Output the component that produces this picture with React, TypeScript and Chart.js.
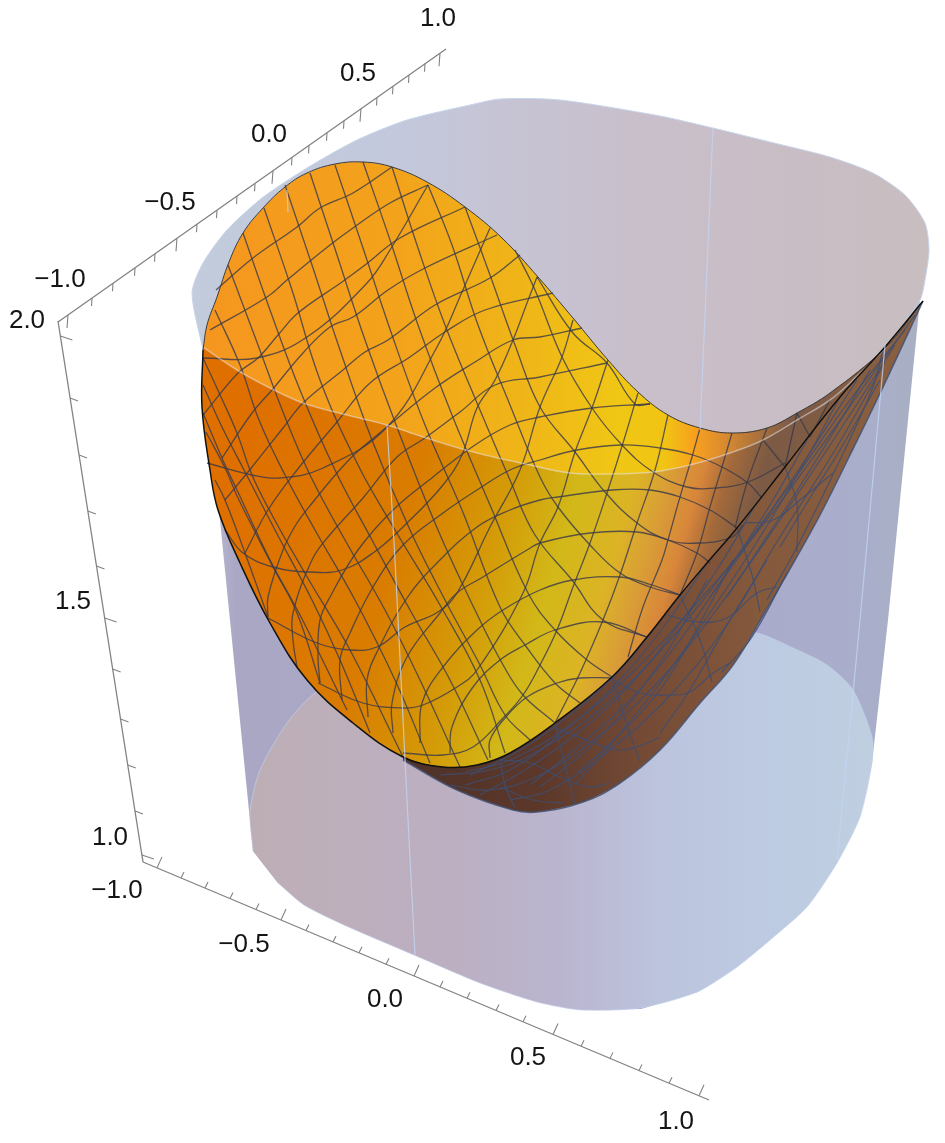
import React, { useEffect, useRef } from "react";
import Chart from "chart.js/auto";

type P = [number, number];

// ---- picture-plane outlines ----
const wallOutline: P[] = [[192,293],[203,350],[253,851],[278,883],[304,905],[344,925],[414,955],[480,983],[537,1002],[581,1010],[641,1009],[698,992],[737,967],[770,940],[807,907],[837,863],[860,817],[872,763],[888,620],[920,300],[929,250],[700,200],[300,200]];
const floorOutline: P[] = [[253,851],[250,812],[260,770],[287,723],[315,693],[400,640],[600,610],[757,633],[793,648],[827,665],[853,690],[872,737],[872,763],[860,817],[837,863],[807,907],[770,940],[737,967],[697,992],[640,1008],[581,1010],[537,1002],[480,983],[414,955],[344,925],[304,905],[278,883]];
const capOutline: P[] = [[203,350],[192,293],[203,263],[227,230],[262,198],[307,168],[357,140],[407,120],[470,105],[500,99],[560,100],[660,116],[713,128],[770,142],[830,157],[873,173],[905,195],[925,223],[929,250],[925,280],[920,300],[885,348],[853,380],[830,400],[797,420],[763,440],[730,453],[690,465],[653,472],[610,474],[570,473],[530,465],[473,452],[423,437],[387,425],[347,415],[303,403],[270,388],[237,370]];
const rimBack: P[] = [[203,350],[207,325],[217,297],[229,262],[243,233],[263,208],[285,187],[307,173],[335,164],[363,162],[392,167],[427,182],[465,207],[502,238],[538,277],[573,318],[608,360],[638,392],[668,415],[700,428],[732,433],[767,428],[797,413],[830,393],[885,348],[923,301]];
const rimFront: P[] = [[203,347],[237,370],[270,388],[303,403],[347,415],[387,425],[423,437],[473,452],[530,465],[570,473],[610,474],[653,472],[690,465],[730,453],[763,440],[797,420],[830,400],[853,380],[885,348],[923,301]];
const frontEdge: P[] = [[203,350],[202,407],[210,470],[218,510],[240,563],[270,623],[307,680],[353,723],[403,757],[443,767],[477,765],[510,753],[555,723],[612,677],[647,637],[680,595],[707,563],[737,528],[785,467],[840,397],[885,347],[923,301]];
const underEdge: P[] = [[403,760],[457,790],[513,810],[537,812],[583,802],[620,783],[660,750],[700,703],[733,665],[765,612],[795,560],[820,515],[850,455],[883,387],[923,301]];

// ---- mesh curves on the surface ----
const fallingCurves: P[][] = [
  [[215,480],[225,500],[245,553],[268,617]],
  [[206,432],[226,470],[238,498],[273,567],[297,613],[320,683]],
  [[203,413],[222,458],[237,490],[270,560],[300,615],[347,710]],
  [[203,385],[221,425],[244,470],[275,530],[312,600],[340,660],[370,733]],
  [[203,358],[221,397],[237,433],[252,475],[272,515],[306,575],[350,650],[403,757]],
  [[215,310],[240,365],[259,420],[285,475],[315,530],[355,600],[395,680],[430,763]],
  [[228,265],[258,345],[283,412],[310,475],[345,540],[385,610],[420,680],[460,767]],
  [[243,233],[270,310],[300,390],[335,470],[372,540],[410,610],[450,680],[488,760]],
  [[264,208],[292,290],[320,380],[358,465],[395,530],[440,605],[480,680],[505,753]],
  [[285,185],[312,265],[340,350],[372,440],[410,530],[445,600],[480,665],[505,715],[530,740]],
  [[310,173],[337,255],[365,340],[398,430],[438,530],[475,610],[502,663],[523,695],[555,723]],
  [[335,165],[362,245],[392,335],[425,425],[462,510],[500,607],[525,645],[555,683],[580,703]],
  [[363,162],[390,240],[418,325],[452,415],[490,505],[528,593],[555,630],[587,660],[612,677]],
  [[392,167],[417,245],[445,325],[480,410],[510,480],[535,535],[572,580],[603,620],[647,637]],
  [[428,185],[452,245],[478,325],[510,405],[540,477],[558,507],[590,545],[620,573],[650,587],[680,595]],
  [[465,207],[490,275],[515,345],[540,407],[575,452],[605,492],[637,523],[668,540],[700,543],[732,537],[743,525]],
  [[515,250],[535,290],[562,357],[592,408],[622,445],[653,472],[687,487],[717,488],[748,482],[785,463]],
  [[537,277],[573,333],[607,363],[635,404],[650,404]],
  [[763,440],[785,467]],
  [[797,413],[810,437]],
];
const valleyCurves: P[][] = [
  [[428,185],[390,250],[367,283],[307,337],[257,358],[203,358]],
  [[490,228],[462,292],[437,347],[387,427],[323,468],[280,478],[252,475],[207,463]],
  [[537,277],[527,303],[513,340],[495,380],[477,408],[462,455],[443,485],[407,523],[373,553],[342,570],[310,572],[273,567],[243,553],[225,530]],
  [[573,320],[562,357],[540,407],[520,470],[490,527],[457,593],[438,612],[405,627],[377,647],[350,650],[317,643],[268,618]],
  [[608,360],[592,408],[575,452],[558,507],[540,543],[523,593],[477,670],[457,687],[423,705],[403,708],[363,703],[318,683]],
  [[638,393],[623,443],[608,490],[590,543],[573,587],[557,630],[540,665],[523,695],[503,718],[473,747],[443,755],[403,753]],
  [[668,415],[655,470],[637,523],[620,575],[603,620],[580,673],[555,723]],
  [[700,428],[692,457],[680,497],[668,540],[662,560],[643,607],[628,657]],
  [[732,433],[722,467],[710,507],[697,553],[680,595]],
  [[767,428],[747,483],[735,528]],
  [[797,413],[785,467]],
  [[830,400],[810,437]],
];
const waveCurves: P[][] = [
  [[216,290],[253,258],[297,227],[320,208],[353,193],[392,167]],
  [[210,330],[267,297],[287,280],[330,245],[353,228],[390,203],[428,185]],
  [[203,415],[238,373],[258,358],[278,335],[298,313],[342,282],[365,265],[400,238],[465,207]],
  [[222,458],[252,413],[272,390],[303,353],[330,327],[353,317],[388,290],[425,268],[497,235]],
  [[225,500],[252,467],[283,428],[303,403],[343,370],[365,352],[388,340],[435,305],[490,278],[520,255]],
  [[245,553],[268,510],[297,470],[337,422],[370,383],[410,357],[445,332],[485,310],[553,293]],
  [[268,617],[268,597],[283,550],[297,523],[313,502],[337,473],[357,452],[387,427],[435,388],[475,362],[513,340],[540,337],[582,328]],
  [[297,667],[293,640],[293,613],[312,560],[328,537],[363,498],[397,457],[425,438],[460,412],[495,385],[540,377],[607,363]],
  [[320,683],[318,657],[320,620],[330,597],[358,550],[393,510],[433,477],[475,445],[510,425],[540,417],[592,408],[650,404]],
  [[342,700],[340,660],[350,633],[373,587],[403,545],[443,513],[477,490],[510,470],[540,460],[577,450],[622,445],[660,448],[693,455],[722,467],[748,483],[762,498]],
  [[368,717],[367,680],[378,650],[407,598],[437,563],[477,527],[510,510],[540,500],[558,497],[612,490],[650,490],[680,497],[710,510],[737,528]],
  [[393,733],[392,703],[407,657],[440,613],[457,593],[483,577],[527,550],[540,543],[590,533],[637,532],[668,540],[697,553],[710,563]],
  [[420,743],[422,703],[443,667],[477,630],[503,610],[540,590],[573,580],[620,577],[652,585],[680,595]],
  [[450,753],[452,727],[473,687],[500,660],[525,645],[555,630],[603,622],[647,637]],
  [[490,758],[490,740],[505,718],[527,697],[557,683],[580,678],[612,678]],
];
const undersideCurves: P[][] = [
  [[915,315],[865,385],[815,455],[755,535],[695,605],[635,670],[570,725],[510,760],[465,772]],
  [[905,330],[850,400],[790,485],[730,565],[670,640],[605,705],[540,750],[490,770],[440,775]],
  [[895,345],[840,430],[780,520],[720,605],[660,680],[600,735],[540,775],[490,790],[450,785]],
  [[885,362],[835,450],[775,545],[730,620],[675,690],[610,750],[550,790],[510,800]],
  [[667,615],[697,622],[727,618],[757,593],[777,587]],
  [[613,680],[640,693],[670,695],[690,692],[713,673],[730,663]],
  [[553,727],[587,740],[617,750],[637,747],[660,737]],
  [[500,760],[530,763],[560,777],[590,787],[610,783]],
  [[500,787],[533,800],[563,803]],
  [[743,523],[773,520],[800,500],[833,473]],
  [[767,560],[730,620],[688,693],[660,733]],
  [[733,560],[700,623],[660,690],[617,737],[577,773]],
  [[707,580],[670,647],[630,703],[590,747],[540,787]],
  [[787,573],[752,637],[722,672]],
  [[880,380],[840,450],[813,493],[780,547]],
  [[870,370],[833,433],[793,497],[760,547],[727,597]],
  [[857,380],[807,457],[753,537],[710,597]],
  [[883,350],[873,387],[840,460],[797,547],[767,600]],
  [[840,397],[800,470],[755,545],[705,620],[655,690],[610,745],[575,785]],
  [[810,435],[770,505],[725,575],[680,640],[630,700],[580,745],[530,785]],
  [[760,497],[720,565],[675,630],[625,690],[575,735],[525,770],[480,795]],
  [[707,563],[665,625],[615,685],[565,730],[510,770],[465,785]],
  [[665,615],[620,670],[570,715],[520,750],[470,775]],
  [[612,677],[625,720],[640,762]],
  [[680,595],[700,640],[712,682]],
  [[737,528],[752,575],[760,612]],
  [[785,467],[797,505],[797,552]],
  [[555,723],[565,765],[575,803]],
  [[500,757],[505,785],[515,808]],
];
const paleEdges: P[][] = [
  [[387,425],[395,560],[405,760],[415,955]],
  [[713,128],[700,430]],
  [[885,345],[860,620],[837,860]],
  [[287,190],[288,212]],
];

// ---- axes ----
const topAxisEnds: P[] = [[58,322],[446,49]];
const leftAxisEnds: P[] = [[58,321],[143,862]];
const bottomAxisEnds: P[] = [[143,862],[709,1100]];
const topTickX = [68,92,113,135,155,177,197,217,237,255,273,292,309,327,344,361,377,393,409,425,440];
const leftTickY = [336,398,455,511,566,618,669,719,765,811,855];
const bottomTickX = [157,181,205,230,256,281,306,333,359,386,414,440,467,496,523,553,581,610,639,669,699];
const axisLabels = ["−1.0","−0.5","0.0","0.5","1.0"];
const topLabelAt: P[] = [[60,280],[170,203],[269,135],[358,74],[438,19]];
const bottomLabelAt: P[] = [[117,891],[244,945],[385,1000],[528,1058],[676,1122]];
const heightLabels = ["2.0","1.5","1.0"];
const heightLabelAt: P[] = [[27,321],[73,602],[110,838]];

// ---- colour bands, left to right ----
const capBands: [number,string][] = [[190,"#c2ccdc"],[400,"#c3c8dc"],[520,"#c6c3d3"],[640,"#c9bfcb"],[800,"#c8bdc4"],[930,"#c8bec0"]];
const floorBands: [number,string][] = [[250,"#bdaeb5"],[450,"#bcafc2"],[560,"#bab5cf"],[660,"#bcc4de"],[770,"#bdcbe2"],[875,"#bfcfe0"]];
const wallBands: [number,string][] = [[195,"#c9c9dc"],[235,"#a9a7c4"],[760,"#aaabcc"],[860,"#a9aecb"],[925,"#a8b0c2"]];
const upperBands: [number,string][] = [[200,"#f5961f"],[400,"#f3a31b"],[520,"#efb518"],[620,"#f0c715"],[665,"#f1c414"],[695,"#f7a01e"],[725,"#d98a30"],[790,"#7c5a48"],[923,"#8c6040"]];
const lowerBands: [number,string][] = [[200,"#df7000"],[380,"#d97c00"],[480,"#d49c08"],[545,"#d2b818"],[600,"#dcb425"],[630,"#d9a035"],[665,"#d8863a"],[690,"#a46a3a"],[725,"#7c5a44"],[923,"#8a6040"]];
const underBands: [number,string][] = [[400,"#4e3128"],[540,"#5c382a"],[640,"#744a35"],[760,"#85593c"],[923,"#8a6040"]];

function App() {
  const ref = useRef<HTMLCanvasElement>(null);
  useEffect(() => {
    document.body.style.margin = "0";
    const canvas = ref.current!;
    const ctx = canvas.getContext("2d")!;
    const band = (stops: [number,string][], tilted = false) => {
      const g = tilted ? ctx.createLinearGradient(0, 600, 867, 860) : ctx.createLinearGradient(0, 0, 945, 0);
      stops.forEach(([x, c]) => g.addColorStop(x / 945, c));
      return g;
    };
    const datasets: any[] = [];
    const poly = (data: P[], fillColor: any, border = "rgba(0,0,0,0)", width = 0, tension = 0.25) =>
      datasets.push({ data, fill: "shape", backgroundColor: fillColor, borderColor: border, borderWidth: width, tension, showLine: true, pointRadius: 0 });
    const curve = (data: any[], color: string, width: number, tension = 0.4) =>
      datasets.push({ data, fill: false, borderColor: color, borderWidth: width, tension, showLine: true, pointRadius: 0, spanGaps: false });

    poly(wallOutline, band(wallBands), "rgba(0,0,0,0)", 0, 0);
    poly(floorOutline, band(floorBands), "rgba(196,213,238,0.6)", 1);
    poly(capOutline, band(capBands), "#c7d5ea", 1);
    poly([...underEdge, ...[...frontEdge].reverse().slice(0, 14)], band(underBands));
    undersideCurves.forEach((c) => curve(c, "rgba(62,78,112,0.85)", 1.2));
    curve(underEdge, "rgba(66,80,112,0.85)", 1.6);
    poly([...rimBack, ...[...rimFront].reverse()], band(upperBands));
    poly([...rimFront, ...[...frontEdge].reverse()], band(lowerBands, true));
    fallingCurves.forEach((c) => curve(c, "rgba(58,58,72,0.8)", 1.3));
    valleyCurves.forEach((c) => curve(c, "rgba(58,58,72,0.8)", 1.3));
    waveCurves.forEach((c) => curve(c, "rgba(58,58,72,0.8)", 1.3));
    curve(rimFront, "rgba(238,238,245,0.42)", 1.6);
    curve(rimBack, "#3c3c3c", 1);
    curve(frontEdge, "#111111", 1.5);
    paleEdges.forEach((c) => curve(c, "rgba(195,212,242,0.8)", 1.2));

    // axes
    const along = (e: P[], t: number): P => [e[0][0] + (e[1][0] - e[0][0]) * t, e[0][1] + (e[1][1] - e[0][1]) * t];
    const ticks = (bases: P[], minor: P, major: P) => {
      const out: any[] = [];
      bases.forEach(([x, y], i) => {
        const d = i % 5 === 0 ? major : minor;
        out.push({ x, y }, { x: x + d[0], y: y + d[1] }, { x: NaN, y: NaN });
      });
      return out;
    };
    const topBases = topTickX.map((x) => along(topAxisEnds, (x - topAxisEnds[0][0]) / (topAxisEnds[1][0] - topAxisEnds[0][0])));
    const leftBases = leftTickY.map((y) => along(leftAxisEnds, (y - leftAxisEnds[0][1]) / (leftAxisEnds[1][1] - leftAxisEnds[0][1])));
    const bottomBases = bottomTickX.map((x) => along(bottomAxisEnds, (x - bottomAxisEnds[0][0]) / (bottomAxisEnds[1][0] - bottomAxisEnds[0][0])));
    [topAxisEnds, leftAxisEnds, bottomAxisEnds].forEach((e) => curve(e, "#828282", 1.3, 0));
    curve(ticks(topBases, [-0.5, 8], [-1, 13]), "#828282", 1.1, 0);
    curve(ticks(leftBases, [8, 3], [12, 4]), "#828282", 1.1, 0);
    curve(ticks(bottomBases, [3, -6], [5, -11]), "#828282", 1.1, 0);

    // later entries paint on top
    datasets.forEach((d, i) => { d.order = datasets.length - i; });

    const textPlugin = {
      id: "axisText",
      afterDatasetsDraw(chart: any) {
        const c = chart.ctx, sx = chart.scales.x, sy = chart.scales.y;
        c.save();
        c.font = '26px "Liberation Sans", Arial, sans-serif';
        c.fillStyle = "#141414";
        c.textAlign = "center";
        c.textBaseline = "middle";
        const put = (t: string, p: P) => c.fillText(t, sx.getPixelForValue(p[0]), sy.getPixelForValue(p[1]));
        axisLabels.forEach((t, i) => { put(t, topLabelAt[i]); put(t, bottomLabelAt[i]); });
        heightLabels.forEach((t, i) => put(t, heightLabelAt[i]));
        c.restore();
      },
    };

    const chart = new Chart(canvas, {
      type: "scatter",
      data: { datasets },
      plugins: [textPlugin],
      options: {
        animation: false,
        responsive: false,
        layout: { padding: 0 },
        plugins: { legend: { display: false }, tooltip: { enabled: false } },
        scales: {
          x: { type: "linear", min: 0, max: 945, display: false },
          y: { type: "linear", min: 0, max: 1143, reverse: true, display: false },
        },
      },
    } as any);
    return () => chart.destroy();
  }, []);
  return <canvas ref={ref} width={945} height={1143} style={{ display: "block" }} />;
}

export default App;
